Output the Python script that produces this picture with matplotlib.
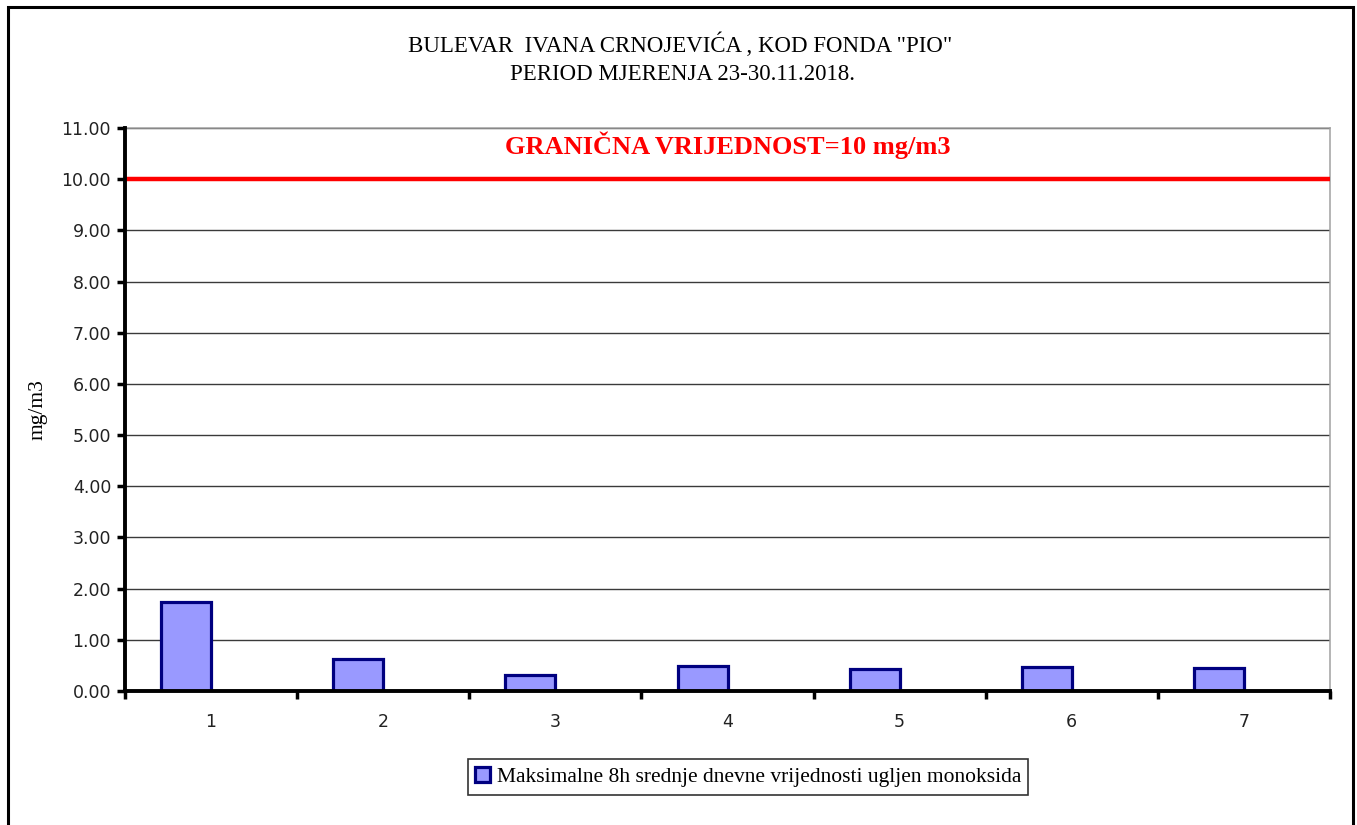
import matplotlib
matplotlib.use("Agg")
import matplotlib.pyplot as plt
from matplotlib.patches import Rectangle
import numpy as np

# Daily maximum 8h mean CO values, one per measurement day
categories = ["1", "2", "3", "4", "5", "6", "7"]
values = [1.74, 0.63, 0.31, 0.49, 0.43, 0.47, 0.44]
limit_value = 10.0
y_ticks = [0, 1, 2, 3, 4, 5, 6, 7, 8, 9, 10, 11]

title_lines = ['BULEVAR  IVANA CRNOJEVIĆA , KOD FONDA "PIO"',
               "PERIOD MJERENJA 23-30.11.2018."]
limit_label = "GRANIČNA VRIJEDNOST=10 mg/m3"
series_label = "Maksimalne 8h srednje dnevne vrijednosti ugljen monoksida"
y_label = "mg/m3"

serif = ["Liberation Serif", "DejaVu Serif"]

fig = plt.figure(figsize=(13.57, 8.25), dpi=100)
fig.patch.set_facecolor("white")

# outer chart frame
frame = Rectangle((8 / 1357, -0.05), (1353 - 8) / 1357, 1.05 - 7 / 825,
                  transform=fig.transFigure, fill=False, edgecolor="black",
                  linewidth=2.2, clip_on=False)
fig.add_artist(frame)

ax = fig.add_axes([125 / 1357, 1 - 691 / 825, (1330 - 125) / 1357, (691 - 128) / 825])

x = np.arange(len(categories))
bar_w = 0.29
ax.bar(x - bar_w / 2, values, width=bar_w, color="#9999FF", edgecolor="#000080",
       linewidth=2.3, zorder=3, label=series_label)

ax.axhline(limit_value, color="#FF0000", linewidth=3.2, zorder=4)
ax.text((len(categories) - 1) / 2, 10.66, limit_label,
        ha="center", va="center", color="#FF0000", fontsize=19, fontweight="bold",
        family=serif, zorder=5)

ax.set_xlim(-0.5, len(categories) - 0.5)
ax.set_ylim(0, 11)

ax.set_yticks(y_ticks)
ax.set_yticklabels([f"{v:.2f}" for v in y_ticks], fontsize=12.5, color="#222222")
ax.yaxis.grid(True, color="#3a3a3a", linewidth=1.0, zorder=0)

ax.set_xticks(np.arange(-0.5, len(categories), 1.0))
ax.set_xticklabels([])
ax.set_xticks(x, minor=True)
ax.set_xticklabels(categories, minor=True, fontsize=12.5, color="#222222")
ax.tick_params(axis="x", which="minor", length=0, pad=16)
ax.tick_params(axis="x", which="major", direction="out", length=6, width=2.5, color="black")
ax.tick_params(axis="y", direction="out", length=6, width=2.5, color="black", pad=4)

for side in ("top", "right"):
    ax.spines[side].set_color("#A0A0A0")
    ax.spines[side].set_linewidth(1.1)
for side in ("left", "bottom"):
    ax.spines[side].set_color("black")
    ax.spines[side].set_linewidth(2.8)
    ax.spines[side].set_zorder(6)

ax.set_ylabel(y_label, family=serif, fontsize=15.5, labelpad=10)

fig.text(680 / 1357, 1 - 45 / 825, title_lines[0], ha="center", va="center",
         family=serif, fontsize=16.5)
fig.text(683 / 1357, 1 - 74 / 825, title_lines[1], ha="center", va="center",
         family=serif, fontsize=16.5)

leg = fig.legend(loc="center", bbox_to_anchor=(748 / 1357, 1 - 777 / 825),
                 prop={"family": serif, "size": 15.5}, frameon=True, fancybox=False,
                 edgecolor="black", handlelength=0.7, handleheight=0.7,
                 handletextpad=0.3, borderpad=0.35)
leg.get_frame().set_linewidth(1.2)

fig.savefig("out.png", dpi=100, facecolor="white")
